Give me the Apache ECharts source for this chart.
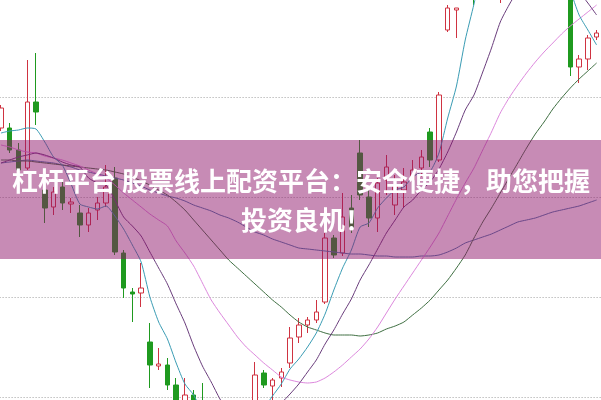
<!DOCTYPE html>
<html><head><meta charset="utf-8">
<script src="https://cdn.jsdelivr.net/npm/echarts@6/dist/echarts.min.js"></script>
<style>html,body{margin:0;padding:0;background:#fff}#c{width:601px;height:400px}</style>
</head><body><div id="c"></div>
<script>
const categories = ['1','2','3','4','5','6','7','8','9','10','11','12','13','14','15','16','17','18','19','20',
'21','22','23','24','25','26','27','28','29','30','31','32','33','34','35','36','37','38','39','40',
'41','42','43','44','45','46','47','48','49','50','51','52','53','54','55','56','57','58','59','60',
'61','62','63','64','65','66','67','68','69'];

// [open, close, low, high]
const candles = [
[12.69,12.89,12.66,12.92],[12.69,12.47,12.44,12.74],[12.47,12.27,12.05,12.54],[12.29,12.95,12.27,13.37],
[12.95,12.85,12.72,13.44],[12.07,11.89,11.74,12.17],[11.90,12.05,11.82,12.10],[12.10,11.94,11.87,12.17],
[11.93,11.95,11.84,11.99],[11.84,11.72,11.60,11.92],[11.72,11.84,11.65,11.89],[11.87,11.94,11.77,12.00],
[11.94,12.10,11.90,12.32],[12.19,11.45,11.42,12.30],[11.44,11.09,10.99,11.47],[11.05,11.03,10.75,11.09],
[11.04,11.09,10.90,11.34],[10.55,10.32,10.09,10.74],[10.31,10.33,10.27,10.49],[10.32,10.12,10.07,10.39],
[10.12,9.85,9.77,10.19],[9.89,10.02,9.82,10.19],[10.02,9.77,9.67,10.07],[9.72,9.52,9.42,10.14],
[9.52,9.42,9.27,9.67],[9.47,9.32,9.22,9.57],[9.37,9.52,9.27,9.67],[9.47,9.67,9.32,9.77],
[9.62,9.87,9.52,9.92],[9.92,10.22,9.87,10.35],[10.24,10.12,10.09,10.27],[10.11,10.17,9.97,10.19],
[10.19,10.25,10.10,10.29],[10.34,10.59,10.29,10.70],[10.60,10.72,10.54,10.79],[10.72,10.77,10.64,10.80],
[10.77,10.85,10.74,10.97],[10.95,11.59,10.93,11.64],[11.59,11.42,11.39,11.62],[11.44,11.80,11.41,12.04],
[11.89,11.69,11.64,12.02],[12.44,12.02,11.97,12.57],[12.00,11.79,11.70,12.07],[11.79,12.14,11.65,12.19],
[12.17,12.30,12.02,12.42],[11.92,12.12,11.82,12.22],[12.07,12.15,11.90,12.29],[12.17,12.27,12.12,12.37],
[12.29,12.40,12.20,12.47],[12.65,12.37,12.30,12.69],[12.37,13.02,12.35,13.05],[13.67,13.89,13.65,13.92],
[13.87,13.89,13.59,13.89],[14.02,14.68,13.99,14.82],[14.57,14.17,13.92,14.72],[14.17,14.77,14.09,14.87],
[14.77,15.17,14.67,15.32],[14.67,15.12,13.94,15.27],[15.12,15.37,15.07,15.47],[15.37,15.17,15.07,15.52],
[15.17,15.47,15.07,15.57],[15.47,14.63,14.57,15.57],[14.63,14.34,14.27,14.77],[14.34,14.06,14.02,14.42],
[14.06,14.02,14.00,14.17],[14.02,13.30,13.21,14.07],[13.30,13.38,13.14,13.42],[13.38,13.59,13.27,13.62],
[13.60,13.64,13.57,13.67]];

const ma5 = [12.64,12.66,12.67,12.69,12.68,12.55,12.40,12.32,12.13,11.93,11.90,11.88,11.91,11.81,11.68,11.52,11.35,11.00,10.75,10.58,
10.34,10.13,10.02,9.84,9.72,9.61,9.51,9.49,9.56,9.72,9.88,10.01,10.13,10.28,10.38,10.50,10.64,10.83,11.07,11.29,
11.47,11.70,11.74,11.89,11.99,12.07,12.10,12.20,12.25,12.26,12.44,12.79,13.11,13.57,13.93,14.32,14.67,14.92,15.12,15.22,
15.27,15.17,14.97,14.72,14.37,14.07,13.82,13.67,13.52];
const ma10 = [12.34,12.37,12.40,12.42,12.44,12.42,12.39,12.35,12.32,12.30,12.19,12.14,12.12,11.97,11.80,11.71,11.61,11.45,11.29,11.13,
10.93,10.74,10.51,10.31,10.15,9.98,9.85,9.79,9.77,9.78,9.81,9.87,9.94,10.03,10.13,10.25,10.37,10.53,10.67,10.83,
10.98,11.17,11.32,11.48,11.64,11.77,11.90,11.97,12.07,12.15,12.28,12.45,12.65,12.87,13.02,13.25,13.49,13.75,13.92,14.07,
14.22,14.32,14.32,14.27,14.22,14.12,14.05,13.94,13.82];
const ma20 = [12.52,12.50,12.47,12.45,12.44,12.41,12.39,12.37,12.34,12.31,12.27,12.23,12.19,12.12,12.04,11.97,11.90,11.83,11.77,11.71,
11.56,11.44,11.31,11.14,10.97,10.84,10.72,10.60,10.50,10.42,10.34,10.27,10.20,10.17,10.15,10.14,10.15,10.19,10.25,10.32,
10.40,10.48,10.58,10.70,10.84,10.98,11.11,11.24,11.37,11.50,11.64,11.81,11.98,12.14,12.29,12.47,12.65,12.84,12.99,13.12,
13.24,13.35,13.45,13.54,13.63,13.71,13.78,13.85,13.92];
const ma30 = [12.37,12.37,12.36,12.36,12.35,12.34,12.33,12.32,12.31,12.30,12.29,12.28,12.27,12.25,12.23,12.20,12.16,12.12,12.07,12.02,
11.95,11.87,11.77,11.67,11.57,11.47,11.37,11.29,11.21,11.13,11.05,10.97,10.90,10.82,10.75,10.70,10.67,10.64,10.62,10.62,
10.62,10.61,10.62,10.64,10.68,10.71,10.75,10.82,10.89,10.97,11.07,11.17,11.29,11.42,11.59,11.75,11.89,12.04,12.19,12.34,
12.49,12.63,12.75,12.88,12.99,13.09,13.18,13.26,13.34];
const ma60 = [12.34,12.35,12.36,12.37,12.36,12.35,12.34,12.32,12.30,12.27,12.25,12.23,12.21,12.19,12.17,12.14,12.11,12.07,12.04,12.01,
11.99,11.96,11.92,11.89,11.86,11.82,11.79,11.75,11.70,11.65,11.62,11.58,11.55,11.52,11.49,11.48,11.47,11.46,11.45,11.44,
11.43,11.43,11.42,11.41,11.41,11.40,11.40,11.40,11.41,11.41,11.42,11.45,11.49,11.54,11.57,11.60,11.63,11.67,11.71,11.75,
11.77,11.79,11.82,11.85,11.87,11.89,11.91,11.94,11.97];

const yMin = 9, yMax = 16, yStep = 1;
const bannerLines = ['杠杆平台 股票线上配资平台：安全便捷，助您把握', '投资良机！'];

const chart = echarts.init(document.getElementById('c'), null, {renderer: 'canvas'});
function maLine(name, data, color) {
  return {name, type: 'line', data, symbol: 'none', showSymbol: false, smooth: 0.2,
    lineStyle: {color, width: 1}, z: 3, silent: true, clip: true};
}
chart.setOption({
  animation: false,
  backgroundColor: '#ffffff',
  grid: {left: -3.4, right: 0, top: -203, bottom: -97, containLabel: false, outerBoundsMode: 'none'},
  xAxis: {type: 'category', data: categories, boundaryGap: true,
    axisLine: {show: false}, axisTick: {show: false}, axisLabel: {show: false}, splitLine: {show: false}},
  yAxis: {type: 'value', min: yMin, max: yMax, interval: yStep, scale: true,
    axisLine: {show: false}, axisTick: {show: false}, axisLabel: {show: false},
    splitLine: {show: true, lineStyle: {color: '#a0a0a0', type: [1, 2], width: 1}}},
  series: [
    {type: 'candlestick', data: candles, barWidth: 5, z: 2,
      itemStyle: {color: '#ffffff', color0: '#1f9a1f', borderColor: '#cf3341', borderColor0: '#1f9a1f', borderWidth: 1}},
    maLine('MA60', ma60, '#4a7aa8'),
    maLine('MA30', ma30, '#3f6f42'),
    maLine('MA20', ma20, '#dd88dd'),
    maLine('MA10', ma10, '#6a3d7c'),
    maLine('MA5', ma5, '#3a9cb4')
  ],
  graphic: [
    {type: 'rect', z: 100, shape: {x: 0, y: 140, width: 601, height: 119},
      style: {fill: 'rgba(141,18,104,0.49)'}},
    {type: 'text', z: 101, x: 301, y: 181,
      style: {text: bannerLines[0], fill: '#ffffff', font: 'bold 26px "Noto Sans CJK SC"', align: 'center', verticalAlign: 'middle'}},
    {type: 'text', z: 101, x: 306, y: 220,
      style: {text: bannerLines[1], fill: '#ffffff', font: 'bold 26px "Noto Sans CJK SC"', align: 'center', verticalAlign: 'middle'}}
  ]
});
</script></body></html>
